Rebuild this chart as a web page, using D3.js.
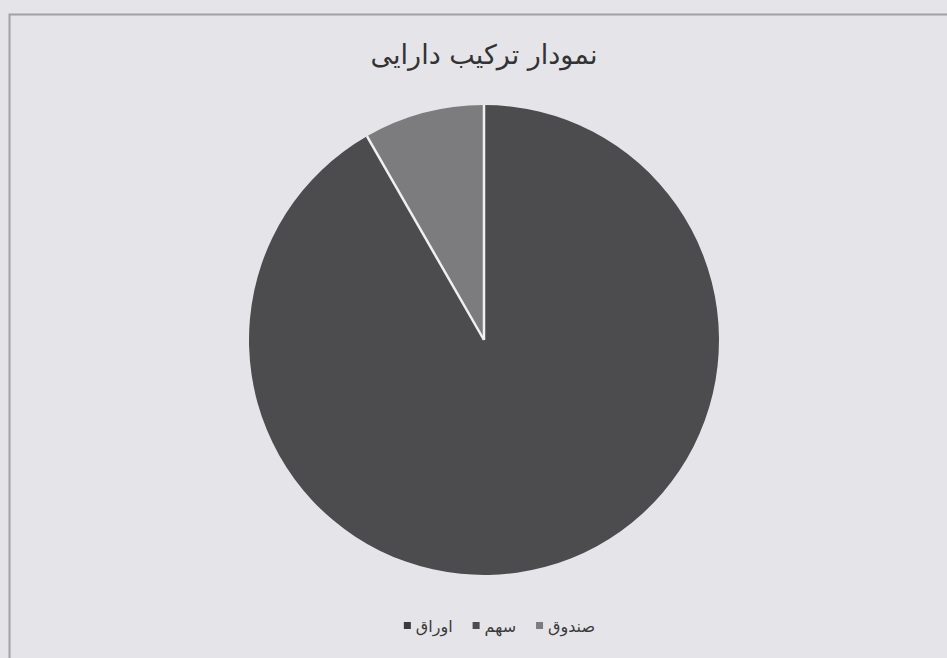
<!DOCTYPE html>
<html>
<head>
<meta charset="utf-8">
<script src="https://cdn.jsdelivr.net/npm/d3@7"></script>
<style>
  html, body { margin: 0; padding: 0; background: #e5e5e9; }
  svg { display: block; }
</style>
</head>
<body>
<svg id="chart" width="947" height="658"></svg>
<script>
// Data
const categories = ["صندوق", "سهم", "اوراق"];
const values = [8.3, 91.7, 0];
const titleText = "نمودار ترکیب دارایی";
const colors = ["#7c7c7e", "#4c4c4e", "#3a3a3c"];

const svg = d3.select("#chart");
const W = 947, H = 658;
const R = 235;

svg.append("rect").attr("width", W).attr("height", H).attr("fill", "#e5e5e9");

// frame lines (top / left)
svg.append("path")
  .attr("d", "M9.5,658 V14.5 H947")
  .attr("fill", "none")
  .attr("stroke", "#a2a2a6")
  .attr("stroke-width", 2);

// title
svg.append("text")
  .attr("x", 484).attr("y", 64)
  .attr("text-anchor", "middle")
  .attr("font-family", "'DejaVu Sans', sans-serif")
  .attr("font-size", 27)
  .attr("fill", "#333")
  .text(titleText);

const data = categories.map((c, i) => ({ name: c, value: values[i] }));
const color = d3.scaleOrdinal().domain(categories).range(colors);

const pie = d3.pie().value(d => d.value).sort(null)
  .startAngle(0).endAngle(-2 * Math.PI);
const arc = d3.arc().innerRadius(0).outerRadius(R);
const arcs = pie(data);

const g = svg.append("g").attr("transform", "translate(484,340)");
g.selectAll("path.slice")
  .data(arcs)
  .join("path")
  .attr("class", "slice")
  .attr("d", arc)
  .attr("fill", d => color(d.data.name));

// white separators between slices (radial only)
g.selectAll("line.sep")
  .data(arcs.filter(d => d.endAngle !== d.startAngle))
  .join("line")
  .attr("class", "sep")
  .attr("x1", 0).attr("y1", 0)
  .attr("x2", d => R * Math.sin(d.startAngle))
  .attr("y2", d => -R * Math.cos(d.startAngle))
  .attr("stroke", "#f0f0f0")
  .attr("stroke-width", 2.5);

// legend (RTL, marker left of text)
const leg = svg.append("g");
let cursor = 595;
const ly = 632;
categories.forEach((c, i) => {
  const t = leg.append("text")
    .attr("x", cursor).attr("y", ly)
    .attr("text-anchor", "end")
    .attr("font-family", "'DejaVu Sans', sans-serif")
    .attr("font-size", 16)
    .attr("fill", "#3a3a3a")
    .text(c);
  const w = t.node().getComputedTextLength();
  const mx = cursor - w - 5 - 7;
  leg.append("rect")
    .attr("x", mx).attr("y", ly - 10)
    .attr("width", 7).attr("height", 7)
    .attr("fill", color(c));
  cursor = mx - 20;
});
</script>
</body>
</html>
